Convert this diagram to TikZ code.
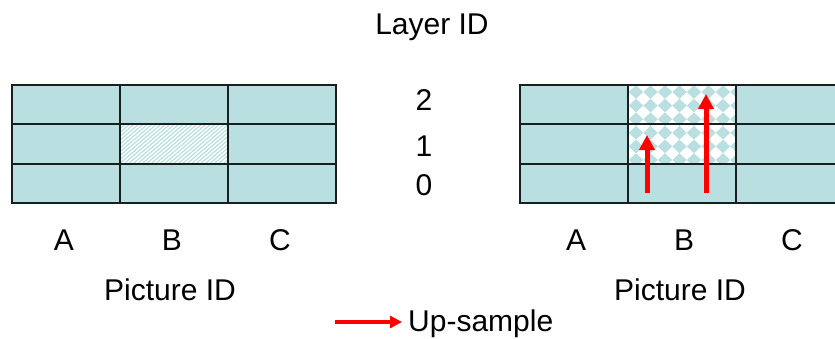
\documentclass[tikz,border=0pt]{standalone}
\usepackage{fontspec}
\setmainfont{Liberation Sans}
\usetikzlibrary{arrows.meta,patterns}
\definecolor{cellfill}{RGB}{185,223,225}
\definecolor{gridline}{RGB}{25,30,30}
\definecolor{upred}{RGB}{255,0,0}
\begin{document}
\begin{tikzpicture}[x=1pt,y=-1pt,
  cell/.style={draw=gridline,line width=2pt,fill=cellfill,minimum width=108pt,minimum height=39.3pt,inner sep=0pt,outer sep=0pt},
  lbl/.style={font=\fontsize{30}{34}\selectfont,inner sep=0pt},
  uparrow/.style={draw=upred,line width=5pt,-{Triangle[length=15pt,width=15pt]}},
  legarrow/.style={draw=upred,line width=3.5pt,-{Triangle[length=12pt,width=12pt]}}]
\useasboundingbox (0,0) rectangle (835,338);
\clip (0,0) rectangle (835,338);
% left grid
\foreach \c/\x in {0/66,1/174,2/282}{
  \foreach \r/\y in {0/183.3,1/144,2/104.7}{
    \node[cell] (L\c\r) at (\x,\y) {};
  }
}
% stripes in left B1
\begin{scope}
  \clip (L11.south west) rectangle (L11.north east);
  \fill[white] (L11.south west) rectangle (L11.north east);
  \foreach \k in {0,4.5,...,160}{
    \draw[cellfill,line width=1.2pt] (120+\k-45,163.3) -- (120+\k,124.7);
  }
\end{scope}
\draw[gridline,line width=2pt] (L11.south west) rectangle (L11.north east);
% right grid
\foreach \c/\x in {0/574,1/682,2/790}{
  \foreach \r/\y in {0/183.3,1/144,2/104.7}{
    \node[cell] (R\c\r) at (\x,\y) {};
  }
}
% checkerboard diamonds in right B1,B2
\begin{scope}
  \clip (R11.south west) rectangle (R12.north east);
  \fill[white] (R11.south west) rectangle (R12.north east);
  \foreach \i in {0,...,8}{
    \foreach \j in {0,...,6}{
      \fill[cellfill] (636+14.5*\i,92+13.6*\j) +(0,-6.8) -- +(7.2,0) -- +(0,6.8) -- +(-7.2,0) -- cycle;
    }
  }
\end{scope}
\draw[gridline,line width=2pt] (R11.south west) rectangle (R11.north east);
\draw[gridline,line width=2pt] (R12.south west) rectangle (R12.north east);
% arrows
\coordinate (a1s) at (647,193);
\coordinate (a1e) at (647,135);
\coordinate (a2s) at (706,193);
\coordinate (a2e) at (706,94);
\draw[uparrow] (a1s) -- (a1e);
\draw[uparrow] (a2s) -- (a2e);
% labels
\node[lbl] (layer) at (432,27) {Layer ID};
\node[lbl] (n2) at (424,100) {2};
\node[lbl] (n1) at (424,146) {1};
\node[lbl] (n0) at (424,185) {0};
\node[lbl] (LA) at (64,240) {A};
\node[lbl] (LB) at (172,240) {B};
\node[lbl] (LC) at (280,240) {C};
\node[lbl] (RA) at (576,240) {A};
\node[lbl] (RB) at (684,240) {B};
\node[lbl] (RC) at (792,240) {C};
\node[lbl] (Lpic) at (170,290) {Picture ID};
\node[lbl] (Rpic) at (680,290) {Picture ID};
\node[lbl,anchor=west] (leg) at (408,324) {Up-sample};
\coordinate (legs) at (335,322);
\draw[legarrow] (legs) -- ([xshift=-6pt]leg.west |- legs);
\end{tikzpicture}
\end{document}
